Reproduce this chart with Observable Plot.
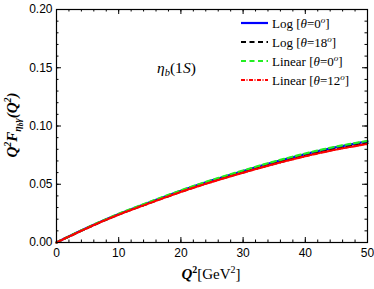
<!DOCTYPE html>
<html><head><meta charset="utf-8">
<script src="https://cdn.jsdelivr.net/npm/d3@7"></script>
<script src="https://cdn.jsdelivr.net/npm/@observablehq/plot@0.6"></script>
<style>body{margin:0;background:#fff}</style>
</head><body><div id="chart"></div>
<script>
const q2 = [0, 5, 10, 15, 20, 25, 30, 35, 40, 45, 50];
const logTheta0   = [0, 0.0128, 0.0244, 0.0346, 0.0444, 0.0533, 0.0614, 0.0690, 0.0759, 0.0818, 0.0868];
const logTheta18  = [0, 0.0126, 0.0240, 0.0340, 0.0436, 0.0523, 0.0602, 0.0676, 0.0744, 0.0802, 0.0852];
const linTheta0   = [0, 0.0129, 0.0246, 0.0349, 0.0447, 0.0537, 0.0618, 0.0695, 0.0764, 0.0824, 0.0872];
const linTheta12  = [0, 0.0125, 0.0239, 0.0338, 0.0434, 0.0520, 0.0599, 0.0673, 0.0740, 0.0798, 0.0846];
const xMajor = [0, 10, 20, 30, 40, 50];
const xMinor = d3.range(0, 51, 2);
const yMajor = [0, 0.05, 0.10, 0.15, 0.20];
const yMinor = d3.range(0, 0.2001, 0.01);

const series = [
  {name: "Log", theta: "0", vals: logTheta0, color: "#0000ff", dash: null},
  {name: "Log", theta: "18", vals: logTheta18, color: "#000000", dash: "5,3.5"},
  {name: "Linear", theta: "0", vals: linTheta0, color: "#22ee22", dash: "5,3.5"},
  {name: "Linear", theta: "12", vals: linTheta12, color: "#ff0000", dash: "4,1.5,1,1.5"}
];
const rows = series.flatMap((s, i) => q2.map((x, j) => ({x, y: s.vals[j], s: i})));

const fmt = d => d.toFixed(2);
const sans = "Liberation Sans, Arial, sans-serif";
const W = 374, H = 289, ML = 56, MT = 9, MR = 7, MB = 47;
const PW = W - ML - MR, PH = H - MT - MB;
const tk = (len) => ({bottom: {insetTop: PH - len}, top: {insetBottom: PH - len}, left: {insetRight: PW - len}, right: {insetLeft: PW - len}});
const svg = Plot.plot({
  width: W, height: H,
  marginLeft: ML, marginTop: MT, marginRight: MR, marginBottom: MB,
  style: {fontFamily: sans, fontSize: "12px", color: "black", background: "white"},
  x: {domain: [0, 50], label: null},
  y: {domain: [0, 0.2], label: null},
  marks: [
    Plot.axisX({anchor: "bottom", ticks: xMajor, tickSize: 0, tickPadding: 6, label: null, tickFormat: d => String(d), fontSize: 12}),
    Plot.axisY({anchor: "left", ticks: yMajor, tickSize: 0, tickPadding: 4, label: null, tickFormat: fmt, fontSize: 12}),
    Plot.tickX(xMajor, {x: d => d, stroke: "black", ...tk(5).bottom}),
    Plot.tickX(xMinor, {x: d => d, stroke: "black", ...tk(2.5).bottom}),
    Plot.tickX(xMajor, {x: d => d, stroke: "black", ...tk(5).top}),
    Plot.tickX(xMinor, {x: d => d, stroke: "black", ...tk(2.5).top}),
    Plot.tickY(yMajor, {y: d => d, stroke: "black", ...tk(5).left}),
    Plot.tickY(yMinor, {y: d => d, stroke: "black", ...tk(2.5).left}),
    Plot.tickY(yMajor, {y: d => d, stroke: "black", ...tk(5).right}),
    Plot.tickY(yMinor, {y: d => d, stroke: "black", ...tk(2.5).right}),
    ...series.map((s, i) => Plot.line(rows.filter(r => r.s === i), {
      x: "x", y: "y", stroke: s.color, strokeWidth: 2.2, strokeDasharray: s.dash, curve: "natural"
    })),
    Plot.frame({stroke: "black", strokeWidth: 1.2})
  ]
});
document.getElementById("chart").appendChild(svg);

const g = d3.select(svg).append("g").attr("text-anchor", "start");
const serif = "Liberation Serif, Times New Roman, serif";
// legend
const ly = [23, 42, 61, 80];
series.forEach((s, i) => {
  g.append("line").attr("x1", 241).attr("x2", 268).attr("y1", ly[i]).attr("y2", ly[i])
    .attr("stroke", s.color).attr("stroke-width", 2.2).attr("stroke-dasharray", s.dash);
  const t = g.append("text").attr("x", 272).attr("y", ly[i] + 4.5).attr("text-anchor", "start")
    .attr("font-family", serif).attr("font-size", 13).attr("fill", "black");
  t.append("tspan").text(s.name + " [");
  t.append("tspan").attr("font-style", "italic").text("θ");
  t.append("tspan").text("=" + s.theta);
  t.append("tspan").attr("font-style", "italic").attr("font-size", 9).attr("dy", -5).text("o");
  t.append("tspan").attr("dy", 5).text("]");
});
// eta_b(1S)
const e = g.append("text").attr("x", 157).attr("y", 73).attr("text-anchor", "start").attr("font-family", serif)
  .attr("font-size", 15.5).attr("fill", "black");
e.append("tspan").attr("font-style", "italic").text("η");
e.append("tspan").attr("font-style", "italic").attr("font-size", 10.5).attr("dy", 3).text("b");
e.append("tspan").attr("dy", -3).text("(1");
e.append("tspan").attr("font-style", "italic").text("S");
e.append("tspan").text(")");
// x title
const xt = g.append("text").attr("x", 211).attr("y", 279).attr("text-anchor", "middle")
  .attr("font-family", serif).attr("font-size", 15).attr("fill", "black");
xt.append("tspan").attr("font-weight", "bold").attr("font-style", "italic").text("Q");
xt.append("tspan").attr("font-weight", "bold").attr("font-size", 10).attr("dy", -6).text("2");
xt.append("tspan").attr("dy", 6).text("[GeV");
xt.append("tspan").attr("font-size", 10).attr("dy", -6).text("2");
xt.append("tspan").attr("dy", 6).text("]");
// y title
const yt = g.append("text").attr("transform", "translate(17,125) rotate(-90)").attr("text-anchor", "middle")
  .attr("font-family", serif).attr("font-size", 15).attr("fill", "black")
  .attr("font-weight", "bold").attr("font-style", "italic");
yt.append("tspan").text("Q");
yt.append("tspan").attr("font-size", 10).attr("dy", -6).text("2");
yt.append("tspan").attr("dy", 6).text("F");
yt.append("tspan").attr("font-size", 10).attr("dy", 4).text("η");
yt.append("tspan").attr("font-size", 7.5).attr("dy", 2).text("b");
yt.append("tspan").attr("font-size", 10).attr("dy", -2).text("γ");
yt.append("tspan").attr("dy", -4).text("(Q");
yt.append("tspan").attr("font-size", 10).attr("dy", -6).text("2");
yt.append("tspan").attr("dy", 6).text(")");
</script></body></html>
